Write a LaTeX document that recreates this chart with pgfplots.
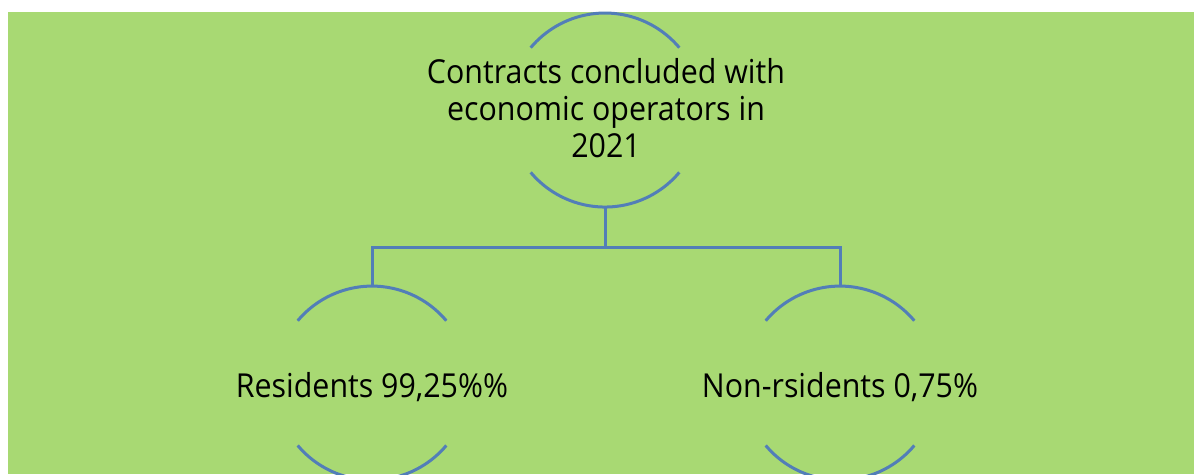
\documentclass[border=0pt]{standalone}
\usepackage{pgfplots}
\pgfplotsset{compat=1.18}
\usepackage{fontspec}
\setmainfont{Open Sans}[FakeStretch=0.92]
\definecolor{bgg}{RGB}{168,217,115}
\definecolor{ln}{RGB}{82,126,184}
\begin{document}
\begin{tikzpicture}
\begin{axis}[
  scale only axis, width=597pt, height=237pt,
  xmin=0, xmax=1194, ymin=0, ymax=474, y dir=reverse,
  hide axis,
]
\addplot[fill=white, draw=none] coordinates {(0,0) (1194,0) (1194,474) (0,474)} --cycle;
\addplot[fill=bgg, draw=none] coordinates {(8,12) (1194,12) (1194,474) (8,474)} --cycle;
% connectors
\addplot[ln, line width=1.5pt] coordinates {(605,207) (605,247)};
\addplot[ln, line width=1.5pt] coordinates {(372,286) (372,247) (840,247) (840,286)};
% arcs
\draw[ln, line width=1.5pt, shift={(axis cs:605,110)}] (40:48.5pt) arc[start angle=40, end angle=140, radius=48.5pt];
\draw[ln, line width=1.5pt, shift={(axis cs:605,110)}] (220:48.5pt) arc[start angle=220, end angle=320, radius=48.5pt];
\draw[ln, line width=1.5pt, shift={(axis cs:372,383)}] (40:48.5pt) arc[start angle=40, end angle=140, radius=48.5pt];
\draw[ln, line width=1.5pt, shift={(axis cs:372,383)}] (220:48.5pt) arc[start angle=220, end angle=320, radius=48.5pt];
\draw[ln, line width=1.5pt, shift={(axis cs:840,383)}] (40:48.5pt) arc[start angle=40, end angle=140, radius=48.5pt];
\draw[ln, line width=1.5pt, shift={(axis cs:840,383)}] (220:48.5pt) arc[start angle=220, end angle=320, radius=48.5pt];
% texts
\node[anchor=base, font=\fontsize{16.5pt}{18.5pt}\selectfont, inner sep=0] at (axis cs:606,83) {Contracts concluded with};
\node[anchor=base, font=\fontsize{16.5pt}{18.5pt}\selectfont, inner sep=0] at (axis cs:606,120) {economic operators in};
\node[anchor=base, font=\fontsize{16.5pt}{18.5pt}\selectfont, inner sep=0] at (axis cs:606,157) {2021};
\node[anchor=base, font=\fontsize{16.5pt}{18.5pt}\selectfont, inner sep=0] at (axis cs:372,397) {Residents 99,25\%\%};
\node[anchor=base, font=\fontsize{16.5pt}{18.5pt}\selectfont, inner sep=0] at (axis cs:840,397) {Non-rsidents 0,75\%};
\end{axis}
\end{tikzpicture}
\end{document}
